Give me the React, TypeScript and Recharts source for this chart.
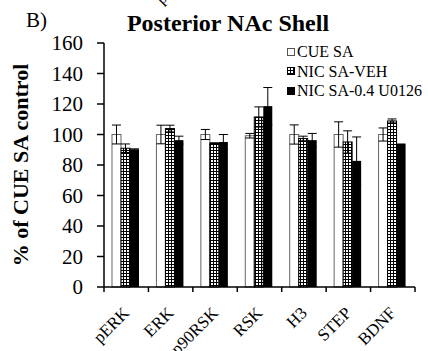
import { Bar, BarChart, Legend, XAxis, YAxis } from 'recharts';

const categories = ['pERK', 'ERK', 'p90RSK', 'RSK', 'H3', 'STEP', 'BDNF'];
const cueSa = [100, 100, 100, 99.2, 100, 100, 100];
const cueSaErr = [6.2, 6.1, 3.3, 1.5, 6.3, 8.3, 4.3];
const nicVeh = [91, 103.9, 94.1, 111.5, 97.4, 95.1, 108.9];
const nicVehErr = [2.8, 2.2, 0.5, 6.6, 1.5, 7.3, 1.3];
const nicU0126 = [90.2, 96.3, 95.1, 118.6, 96.3, 82.7, 94.1];
const nicU0126Err = [0.4, 2.6, 4.9, 12.2, 4.4, 15.7, 0];
const yTicks = [0, 20, 40, 60, 80, 100, 120, 140, 160];
const seriesOrder = ['cue', 'veh', 'u0126'];

const data = categories.map((name, i) => ({
  name,
  cue: cueSa[i],
  cueErr: cueSaErr[i],
  veh: nicVeh[i],
  vehErr: nicVehErr[i],
  u0126: nicU0126[i],
  u0126Err: nicU0126Err[i],
}));

const FONT = '"Liberation Serif", "Times New Roman", serif';
const W = 428;
const H = 351;
const MARGIN = { top: 43, right: 13, bottom: 0, left: 0 };
const Y_AXIS_W = 104;
const PLOT_W = W - MARGIN.left - MARGIN.right - Y_AXIS_W;

// bar rect + symmetric error bar, scaled from the bar's own height
const barWithError = (errKey: string, fill: string, stroke: string) => (props: any) => {
  const { x, y, width, height, payload } = props;
  const value = payload[errKey.replace('Err', '')];
  const pxPerUnit = value ? height / value : 0;
  const e = (payload[errKey] || 0) * pxPerUnit;
  const cx = x + width / 2;
  const cap = 4.5;
  return (
    <g>
      <rect x={x} y={y} width={width} height={height} fill={fill} stroke={stroke} strokeWidth={stroke === 'none' ? 0 : 1} />
      {e > 0 && (
        <g stroke="#000" strokeWidth={1}>
          <line x1={cx} y1={y - e} x2={cx} y2={y + e} />
          <line x1={cx - cap} y1={y - e} x2={cx + cap} y2={y - e} />
          <line x1={cx - cap} y1={y + e} x2={cx + cap} y2={y + e} />
        </g>
      )}
    </g>
  );
};

const XTick = (props: any) => {
  const { x, y, payload, index } = props;
  const band = PLOT_W / categories.length;
  const lx = x + 4;
  const ly = y + 27;
  return (
    <g>
      <line x1={x - band / 2} y1={y} x2={x - band / 2} y2={y + 5} stroke="#000" strokeWidth={1.5} />
      {index === categories.length - 1 && (
        <line x1={x + band / 2} y1={y} x2={x + band / 2} y2={y + 5} stroke="#000" strokeWidth={1.5} />
      )}
      <text
        x={lx}
        y={ly}
        textAnchor="end"
        transform={`rotate(-45 ${lx} ${ly})`}
        fontSize={17}
        fontFamily={FONT}
        fill="#000"
      >
        {payload.value}
      </text>
    </g>
  );
};

const swatch = (key: string) => {
  if (key === 'cue') return <rect x={0.5} y={0.5} width={7} height={7} fill="#fff" stroke="#555" />;
  if (key === 'veh') return <rect x={0.5} y={0.5} width={7} height={7} fill="url(#grid)" stroke="#000" />;
  return <rect x={0} y={0} width={8} height={8} fill="#000" />;
};

const renderLegend = (props: any) => {
  const items = [...(props.payload || [])].sort(
    (a: any, b: any) => seriesOrder.indexOf(a.dataKey) - seriesOrder.indexOf(b.dataKey)
  );
  return (
    <div style={{ fontFamily: FONT, fontSize: 16, color: '#000' }}>
      {items.map((entry: any) => (
        <div
          key={entry.dataKey}
          style={{ height: 19.5, lineHeight: '19.5px', whiteSpace: 'nowrap', display: 'flex', alignItems: 'center' }}
        >
          <svg width={9} height={8} style={{ marginRight: 1 }}>
            {swatch(entry.dataKey)}
          </svg>
          <span>{entry.value}</span>
        </div>
      ))}
    </div>
  );
};

export default function App() {
  return (
    <div style={{ position: 'absolute', left: 0, top: 0, width: W, height: H, background: '#fff', overflow: 'hidden' }}>
      <BarChart
        width={W}
        height={H}
        data={data}
        margin={MARGIN}
        barCategoryGap="18%"
        barGap={0}
      >
        <defs>
          <pattern id="grid" width={3} height={3} patternUnits="userSpaceOnUse">
            <rect width={3} height={3} fill="#fff" />
            <rect width={1} height={3} fill="#000" />
            <rect width={3} height={1} fill="#000" />
          </pattern>
        </defs>
        <XAxis
          dataKey="name"
          height={64}
          axisLine={{ stroke: '#000', strokeWidth: 1.5 }}
          tickLine={false}
          tickSize={0}
          tickMargin={0}
          interval={0}
          tick={<XTick />}
        />
        <YAxis
          width={Y_AXIS_W}
          domain={[0, 160]}
          ticks={yTicks}
          interval={0}
          axisLine={{ stroke: '#000', strokeWidth: 1.5 }}
          tickLine={{ stroke: '#000', strokeWidth: 1.5 }}
          tickSize={7}
          tickMargin={14}
          tick={{ fill: '#000', fontSize: 21, fontFamily: FONT }}
          label={{
            content: () => (
              <text
                x={28}
                y={165}
                transform="rotate(-90 28 165)"
                textAnchor="middle"
                fontSize={22}
                fontWeight="bold"
                fontFamily={FONT}
                fill="#000"
              >
                % of CUE SA control
              </text>
            ),
          }}
        />
        <Legend
          layout="horizontal"
          verticalAlign="middle"
          align="center"
          content={renderLegend}
          wrapperStyle={{ position: 'absolute', left: 287, top: 42, width: 141, height: 60 }}
        />
        <Bar
          dataKey="cue"
          name="CUE SA"
          fill="#fff"
          stroke="#666"
          isAnimationActive={false}
          shape={barWithError('cueErr', '#fff', '#666')}
        />
        <Bar
          dataKey="veh"
          name="NIC SA-VEH"
          fill="url(#grid)"
          stroke="#000"
          isAnimationActive={false}
          shape={barWithError('vehErr', 'url(#grid)', '#000')}
        />
        <Bar
          dataKey="u0126"
          name="NIC SA-0.4 U0126"
          fill="#000"
          isAnimationActive={false}
          shape={barWithError('u0126Err', '#000', 'none')}
        />
      </BarChart>
      <svg width={W} height={H} style={{ position: 'absolute', left: 0, top: 0, pointerEvents: 'none' }}>
        <text x={26} y={27} fontSize={21} fontFamily={FONT} fill="#000">
          B)
        </text>
        <text x={228} y={31} textAnchor="middle" fontSize={24} fontWeight="bold" fontFamily={FONT} fill="#000">
          Posterior NAc Shell
        </text>
        <text x={168} y={-1} textAnchor="end" transform="rotate(-45 168 -1)" fontSize={17} fontFamily={FONT} fill="#000">
          p
        </text>
      </svg>
    </div>
  );
}
